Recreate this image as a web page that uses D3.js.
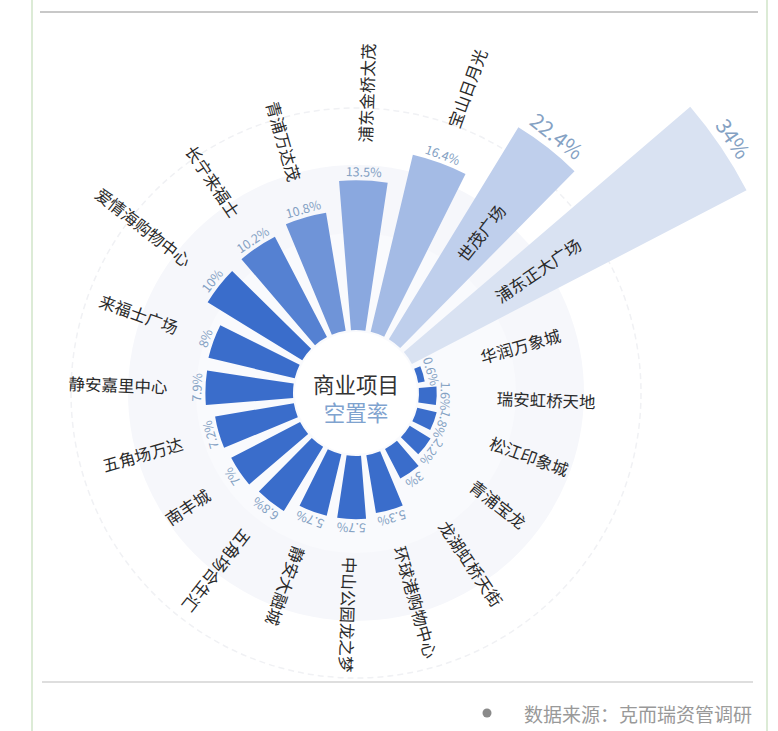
<!DOCTYPE html>
<html><head><meta charset="utf-8">
<script src="https://cdn.jsdelivr.net/npm/d3@7"></script>
<style>
html,body{margin:0;padding:0;background:#fff;}
svg{display:block;font-family:"Noto Sans CJK SC","Noto Sans",sans-serif;}
</style></head>
<body>
<svg id="c" width="778" height="731"></svg>
<script>
const names = ["华润万象城","瑞安虹桥天地","松江印象城","青浦宝龙","龙湖虹桥天街","环球港购物中心","中山公园龙之梦","静安大融城","五角场合生汇","南丰城","五角场万达","静安嘉里中心","来福士广场","爱情海购物中心","长宁来福士","青浦万达茂","浦东金桥太茂","宝山日月光","世茂广场","浦东正大广场"];
const values = [0.6,1.6,1.8,2.2,3,5.3,5.7,5.7,6.8,7,7.2,7.9,8,10,10.2,10.8,13.5,16.4,22.4,34];
const centerTitle = ["商业项目","空置率"];
const sourceText = "数据来源：克而瑞资管调研";

const svg = d3.select("#c");
const W = 778, H = 731;
const cx = 356, cy = 393;
const inner = 63;
const deg = Math.PI/180;

// frame
svg.append("line").attr("x1",32).attr("x2",32).attr("y1",0).attr("y2",H).attr("stroke","#dcebd6").attr("stroke-width",2);
svg.append("line").attr("x1",767).attr("x2",767).attr("y1",0).attr("y2",H).attr("stroke","#dcebd6").attr("stroke-width",2);
svg.append("line").attr("x1",40).attr("x2",758).attr("y1",12).attr("y2",12).attr("stroke","#c8c8c8").attr("stroke-width",2);
svg.append("line").attr("x1",42).attr("x2",753).attr("y1",682).attr("y2",682).attr("stroke","#bdbdbd").attr("stroke-width",1);
svg.append("circle").attr("cx",487).attr("cy",713).attr("r",4.5).attr("fill","#8a8a8a");
svg.append("text").attr("x",752).attr("y",713).attr("text-anchor","end").attr("dominant-baseline","central")
  .attr("font-size",19).attr("fill","#999").text(sourceText);

const g = svg.append("g").attr("transform",`translate(${cx},${cy})`);

// background rings
g.append("circle").attr("r",285).attr("fill","none").attr("stroke","#f0f1f4").attr("stroke-width",1.5).attr("stroke-dasharray","6 4");
g.append("circle").attr("r",228).attr("fill","#f6f7fb");
g.append("circle").attr("r",160).attr("fill","#f9fafd");
g.append("circle").attr("r",inner-2).attr("fill","#ffffff");

const x = d3.scaleBand().domain(names).range([65*deg, 425*deg]).paddingInner(0.27).paddingOuter(0.135);
const y = d3.scaleLinear().domain([0,34]).range([inner,440]);
const color = d3.scaleLinear().domain([13,19]).range(["#3a6dcb","#d9e2f2"]).clamp(true).interpolate(d3.interpolateRgb);

const data = names.map((n,i)=>({name:n, value:values[i], i}));
const arc = d3.arc().innerRadius(inner).outerRadius(d=>y(d.value))
  .startAngle(d=>x(d.name)).endAngle(d=>x(d.name)+x.bandwidth());

g.selectAll("path.bar").data(data).join("path").attr("class","bar")
  .attr("d",arc).attr("fill",d=>color(d.i));

const midDeg = d => ((x(d.name)+x.bandwidth()/2)/deg) % 360;

// value labels
const vfs = d => d.value>20?21:12.5;
g.selectAll("text.val").data(data).join("text").attr("class","val")
  .attr("text-anchor","middle").attr("dominant-baseline","central")
  .attr("font-size",vfs)
  .attr("fill","#84a1c3")
  .attr("transform",d=>`rotate(${midDeg(d)}) translate(0,${-(y(d.value)+vfs(d)*0.75)})`)
  .text(d=>d.value+"%");

// name labels
g.selectAll("text.name").data(data).join("text").attr("class","name")
  .attr("dominant-baseline","central").attr("font-size",16.5).attr("fill","#2a2a2a")
  .each(function(d){
    const a = midDeg(d);
    const outer = y(d.value);
    let r;
    if (outer > 300) r = inner + 107;
    else r = outer + (d.value < 4 ? 60 : 38);
    const flip = a > 225 && a < 355;
    const sel = d3.select(this);
    if (!flip) sel.attr("text-anchor","start").attr("transform",`rotate(${a-90}) translate(${r},0)`);
    else sel.attr("text-anchor","end").attr("transform",`rotate(${a-90}) translate(${r},0) rotate(180)`);
  })
  .text(d=>d.name);

// center title
g.append("text").attr("y",-10).attr("text-anchor","middle").attr("dominant-baseline","central")
  .attr("font-size",21.5).attr("fill","#333").text(centerTitle[0]);
g.append("text").attr("y",18).attr("text-anchor","middle").attr("dominant-baseline","central")
  .attr("font-size",21.5).attr("fill","#7fa3cf").text(centerTitle[1]);
</script>
</body></html>
